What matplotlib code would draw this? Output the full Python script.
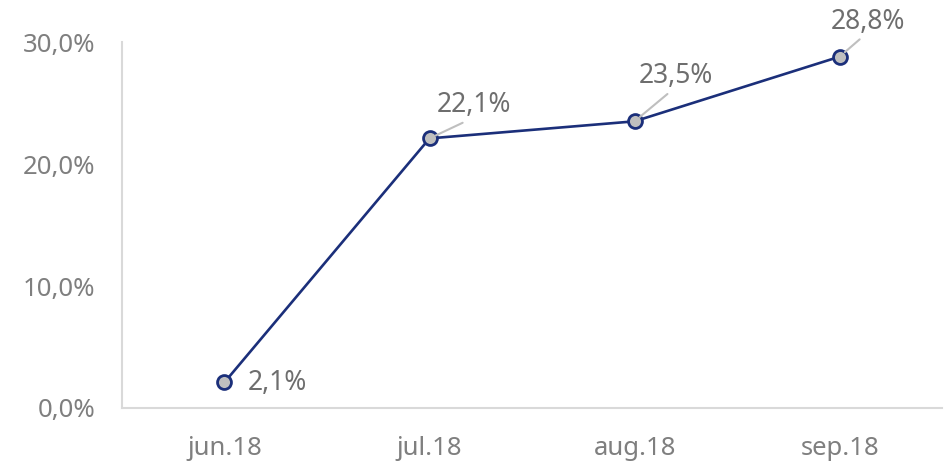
import matplotlib.pyplot as plt

months = ['jun.18', 'jul.18', 'aug.18', 'sep.18']
share = [2.1, 22.1, 23.5, 28.8]
y_ticks = [0, 10, 20, 30]

# where each value label sits relative to its point (pixels)
label_offsets = [(53, -1), (44, 33), (41, 45), (28, 35)]
leader = [False, True, True, True]

NAVY = '#1B2F7A'
GREY_TEXT = '#7F7F7F'
LABEL_TEXT = '#6E6E6E'

plt.rcParams['font.family'] = ['Noto Sans', 'DejaVu Sans']

fig = plt.figure(figsize=(9.45, 4.65), dpi=100)
ax = fig.add_axes([0.129, 0.1226, 0.868, 0.787])

x = list(range(len(months)))
ax.plot(x, share, color=NAVY, linewidth=1.9, marker='o', markersize=10,
        markerfacecolor='#BFBFBF', markeredgecolor=NAVY, markeredgewidth=2,
        zorder=3, clip_on=False)

for xi, v, off, lead in zip(x, share, label_offsets, leader):
    txt = f'{v:.1f}%'.replace('.', ',')
    props = None
    if lead:
        props = dict(arrowstyle='-', color='#BFBFBF', lw=1.5, relpos=(0.45, 0.0),
                     shrinkA=1, shrinkB=5)
    ax.annotate(txt, (xi, v), xytext=off, textcoords='offset pixels',
                ha='center', va='center', fontsize=19, color=LABEL_TEXT,
                arrowprops=props, annotation_clip=False)

ax.set_xlim(-0.5, 3.5)
ax.set_ylim(0, 30)
ax.set_xticks(x)
ax.set_xticklabels(months)
ax.set_yticks(y_ticks)
ax.set_yticklabels([f'{t:.1f}%'.replace('.', ',') for t in y_ticks])

for side in ['top', 'right']:
    ax.spines[side].set_visible(False)
for side in ['left', 'bottom']:
    ax.spines[side].set_color('#D9D9D9')
    ax.spines[side].set_linewidth(1.5)

ax.tick_params(axis='both', length=0, labelsize=18.5, labelcolor=GREY_TEXT)
ax.tick_params(axis='y', pad=19)
ax.tick_params(axis='x', pad=20)

fig.savefig('out.png', dpi=100)
